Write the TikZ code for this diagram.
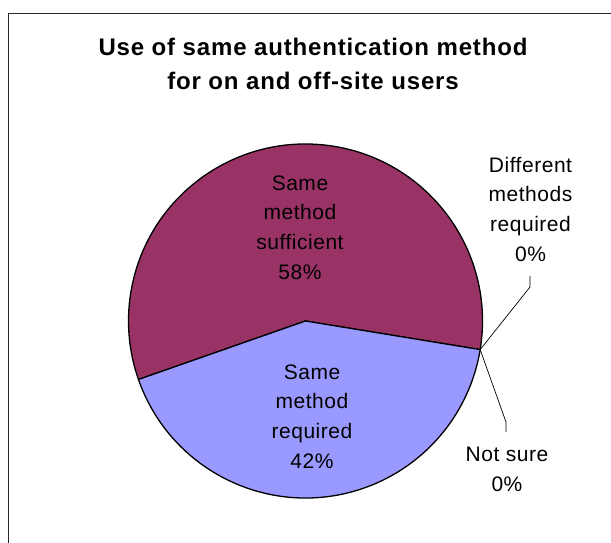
\documentclass[tikz,border=0pt]{standalone}
\usepackage{fontspec}
\setmainfont{Liberation Sans}
\definecolor{slicemaroon}{HTML}{993366}
\definecolor{slicelavender}{HTML}{9999FF}
\begin{document}
\begin{tikzpicture}[x=1pt,y=1pt,
  slice/.style={draw=black, line width=1.3pt, line join=round},
  leader/.style={draw=black, line width=0.7pt},
  lbl/.style={align=center, inner sep=0pt,
    font=\fontsize{21}{29.7}\selectfont\addfontfeature{LetterSpace=2.5}},
  ttl/.style={align=center, inner sep=0pt,
    font=\fontsize{24}{34}\selectfont\bfseries\addfontfeature{LetterSpace=3.5}}]
\useasboundingbox (0,0) rectangle (611,543);
\clip (0,0) rectangle (611,543);
% chart area frame (runs past the right and bottom edges)
\draw[line width=1pt, draw=black!85] (8,529) rectangle (640,-20);

% title
\node[ttl] (title) at (313,479.5) {Use of same authentication method\\for on and off-site users};

% pie
\coordinate (c) at (305.5,222);
\coordinate (edge) at ([shift={(-9.3:177)}]c);
\coordinate (ledge) at ([shift={(199.3:177)}]c);
\filldraw[slice, fill=slicemaroon] (c) -- (edge) arc[start angle=-9.3, end angle=199.3, radius=177] -- cycle;
\filldraw[slice, fill=slicelavender] (c) -- (ledge) arc[start angle=199.3, end angle=350.7, radius=177] -- cycle;

% slice labels
\node[lbl] (suff) at (300,315.5) {Same\\method\\sufficient\\58\%};
\node[lbl] (req) at (312,126.5) {Same\\method\\required\\42\%};
\node[lbl] (diff) at (530.5,333.7) {Different\\methods\\required\\0\%};
\node[lbl] (notsure) at (507,73.5) {Not sure\\0\%};

% leader lines for the 0% slices
\coordinate (dbend) at (530,256);
\coordinate (dend) at (530,267);
\coordinate (nbend) at (506,121);
\coordinate (nend) at (506,111);
\draw[leader] (edge) -- (dbend) -- (dend);
\draw[leader] (edge) -- (nbend) -- (nend);
\end{tikzpicture}
\end{document}
